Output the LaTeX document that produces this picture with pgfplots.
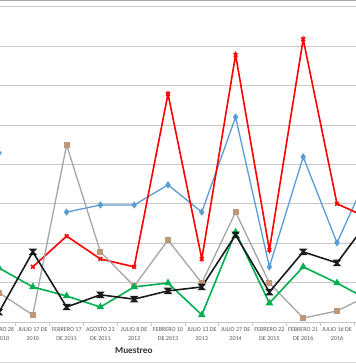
\documentclass[border=0pt]{standalone}
\usepackage{fontspec}
\setmainfont{Carlito}
\usepackage{pgfplots}
\usepackage{pgfplotstable}
\pgfplotsset{compat=1.18}
\definecolor{cblue}{HTML}{5B9BD5}
\definecolor{cred}{HTML}{FF0000}
\definecolor{cgray}{HTML}{A5A5A5}
\definecolor{ctan}{HTML}{BE9678}
\definecolor{cblack}{HTML}{1A1A1A}
\definecolor{cgreen}{HTML}{00B050}
\definecolor{cgrid}{HTML}{C8C8C8}
\definecolor{ctext}{HTML}{595959}
\pgfdeclareplotmark{hourglass}{%
  \pgfpathmoveto{\pgfqpoint{-\pgfplotmarksize}{\pgfplotmarksize}}%
  \pgfpathlineto{\pgfqpoint{\pgfplotmarksize}{\pgfplotmarksize}}%
  \pgfpathlineto{\pgfqpoint{-\pgfplotmarksize}{-\pgfplotmarksize}}%
  \pgfpathlineto{\pgfqpoint{\pgfplotmarksize}{-\pgfplotmarksize}}%
  \pgfpathclose
  \pgfusepathqstroke}
\pgfplotstableread{
k blue red gray black green
0 4.29 nan 0.74 0.25 1.37
1 nan 1.40 0.18 1.78 0.89
2 2.79 2.18 4.49 0.38 0.66
3 2.97 1.60 1.78 0.69 0.38
4 2.97 1.40 0.91 0.58 0.89
5 3.48 5.79 2.08 0.79 0.99
6 2.79 1.60 0.99 0.89 0.18
7 5.20 6.78 2.79 2.21 2.28
8 1.40 1.83 0.99 0.76 0.48
9 4.19 7.18 0.10 1.78 1.40
10 2.01 3.00 0.28 1.50 0.99
11 3.90 2.61 0.70 2.65 0.53
}\datatable
\begin{document}
\begin{tikzpicture}
\useasboundingbox (0,0) rectangle (356bp,364bp);
\clip (0,0) rectangle (356bp,364bp);
\begin{axis}[
  x=33.8bp, y=39.4bp,
  at={(-51.7bp,42bp)}, anchor=south west,
  xmin=-1.5, xmax=11.5, ymin=0, ymax=8,
  axis line style={draw=none},
  clip=false,
  ytick={0,...,8}, yticklabels={}, ymajorgrids,
  ytick style={draw=none},
  grid style={cgrid, line width=0.9bp},
  xtick={0,...,10},
  xticklabels={{FEBRERO 28\\DE 2010},{JULIO 17 DE\\2010},{FEBRERO 17\\DE 2011},{AGOSTO 23\\DE 2011},{JULIO 8 DE\\2012},{FEBRERO 10\\DE 2013},{JULIO 13 DE\\2013},{JULIO 27 DE\\2014},{FEBRERO 22\\DE 2015},{FEBRERO 21\\DE 2016},{JULIO 16 DE\\2016}},
  xticklabel style={align=center, font=\fontsize{6.1}{8.8}\selectfont, text=ctext, yshift=-2bp},
  xtick style={draw=none},
  xtick pos=bottom,
  extra x ticks={-0.5,0.5,...,11.5},
  extra x tick labels={},
  extra x tick style={xtick style={draw=cgrid, line width=0.8bp}, tick align=outside, major tick length=4bp, grid=none},
]
\addplot[cblue, line width=1.3bp, mark=diamond*, mark size=2.6bp, unbounded coords=jump] table[x=k,y=blue]{\datatable};
\addplot[cred, line width=1.6bp, mark=x, mark size=2.6bp, unbounded coords=jump] table[x=k,y=red]{\datatable};
\addplot[cgray, line width=1.3bp, mark=square*, mark size=2.3bp, mark options={fill=ctan, draw=ctan}, unbounded coords=jump] table[x=k,y=gray]{\datatable};
\addplot[cgreen, line width=1.6bp, mark=triangle*, mark size=2.8bp, unbounded coords=jump] table[x=k,y=green]{\datatable};
\addplot[cblack, line width=1.6bp, mark=hourglass, mark size=2.4bp, unbounded coords=jump] table[x=k,y=black]{\datatable};
\node[font=\fontsize{9.3}{11}\selectfont\bfseries, text=black!80] at (axis cs:3.99,-0.73) {Muestreo};
\end{axis}
\draw[cgray, line width=1.2bp] (0,363.4bp) -- (356bp,363.4bp);
\draw[cgrid!60, line width=0.8bp] (0,1.5bp) -- (356bp,1.5bp);
\end{tikzpicture}
\end{document}
